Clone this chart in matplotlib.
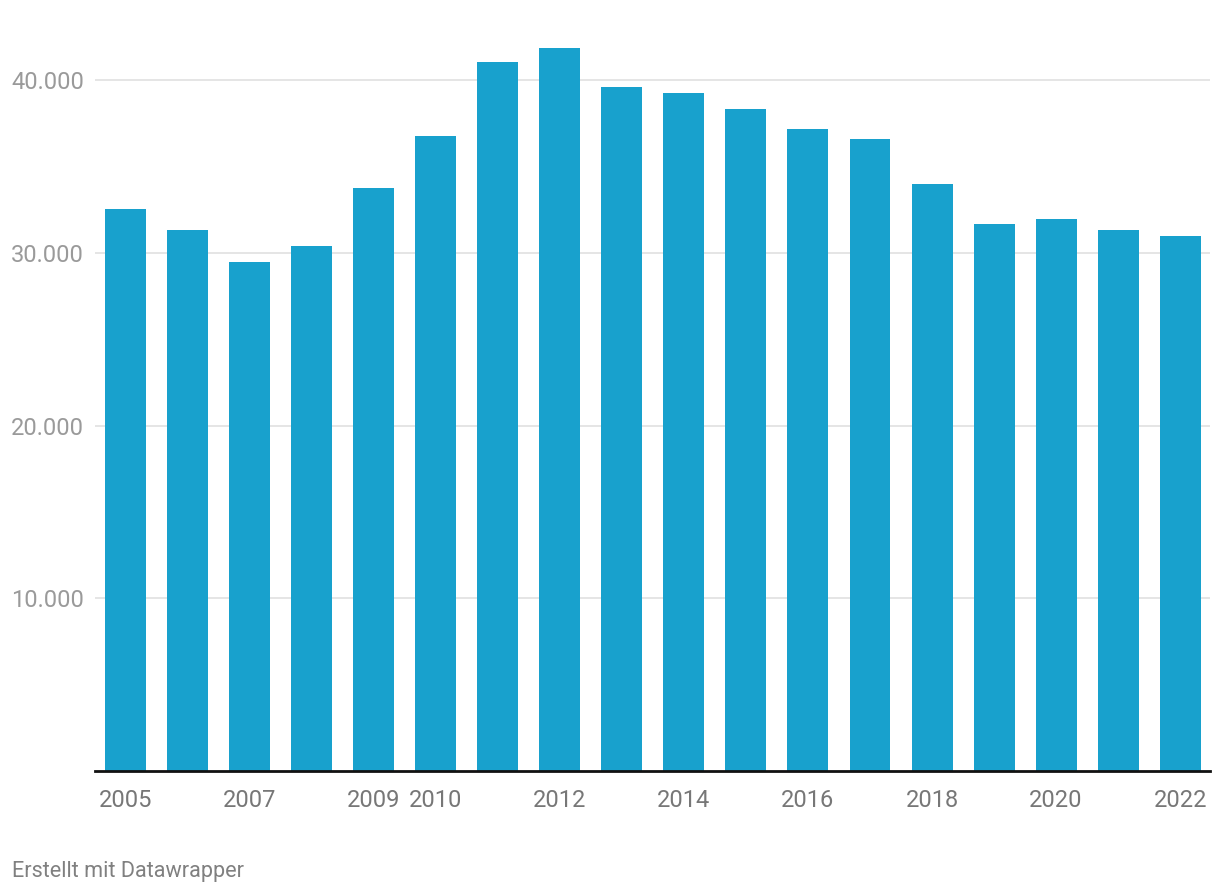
import numpy as np
import matplotlib.pyplot as plt
from matplotlib.ticker import FuncFormatter

plt.rcParams['font.family'] = ['Roboto', 'DejaVu Sans']

years = list(range(2005, 2023))
values = [32530, 31320, 29460, 30390, 33750, 36760, 41040, 41850, 39590,
          39250, 38320, 37160, 36580, 33980, 31660, 31950, 31320, 30970]
shown_years = [2005, 2007, 2009, 2010, 2012, 2014, 2016, 2018, 2020, 2022]
yticks = [10000, 20000, 30000, 40000]

W, H = 1220, 894
fig = plt.figure(figsize=(W / 100, H / 100), dpi=100)
# axes box in pixels: left 95, right 1210, top 40, bottom 771
ax = fig.add_axes([95 / W, 1 - 771 / H, (1210 - 95) / W, (771 - 40) / H])

x = np.arange(len(years))
ax.bar(x, values, width=0.66, color='#18a1cd', zorder=2)

ax.set_xlim(-0.49, 17.48)
ax.set_ylim(0, 42316)

ax.set_yticks(yticks)
ax.yaxis.set_major_formatter(FuncFormatter(lambda v, p: f'{int(v):,}'.replace(',', '.')))
ax.grid(axis='y', color='#e3e3e3', linewidth=1.3, zorder=0)
ax.tick_params(axis='y', length=0, pad=8, labelsize=17, labelcolor='#9a9a9a')

ax.set_xticks([years.index(y) for y in shown_years])
ax.set_xticklabels([str(y) for y in shown_years])
ax.tick_params(axis='x', length=0, pad=13, labelsize=17, labelcolor='#777777')

for s in ['top', 'right', 'left']:
    ax.spines[s].set_visible(False)
ax.spines['bottom'].set_color('#111111')
ax.spines['bottom'].set_linewidth(2)
ax.spines['bottom'].set_zorder(3)

fig.text(12 / W, 1 - 872 / H, 'Erstellt mit Datawrapper', fontsize=15.6,
         color='#808080', ha='left', va='center')

fig.savefig('out.png', dpi=100, facecolor='white')
